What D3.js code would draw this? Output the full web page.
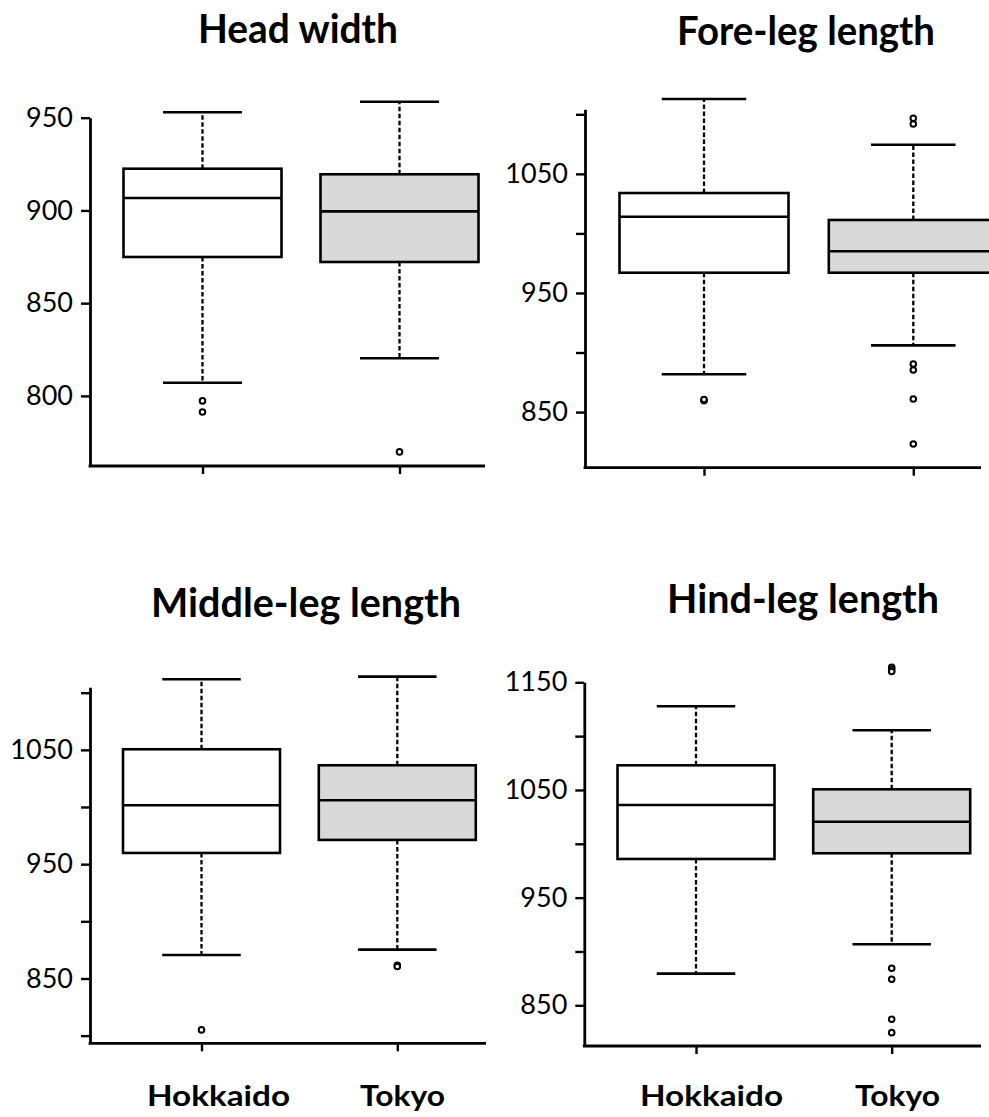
<!DOCTYPE html>
<html>
<head>
<meta charset="utf-8">
<script src="https://cdn.jsdelivr.net/npm/d3@7"></script>
<style>
  html, body { margin: 0; padding: 0; background: #fff; overflow: hidden; }
  svg { display: block; }
  text { font-family: Lato, "Open Sans", "Noto Sans", sans-serif; fill: #000; }
</style>
</head>
<body>
<svg id="chart" width="989" height="1117"></svg>
<script>
// ---------------- DATA ----------------
const categories = ["Hokkaido", "Tokyo"];
const titles = ["Head width", "Fore-leg length", "Middle-leg length", "Hind-leg length"];

// [lower whisker, Q1, median, Q3, upper whisker]
const headHokkaido = [807.1, 874.9, 906.7, 922.5, 952.9];
const headTokyo    = [820.3, 872.2, 899.5, 919.5, 958.6];
const headOutHokkaido = [797.3, 791.3];
const headOutTokyo    = [769.8];

const foreHokkaido = [881.7, 967.0, 1014.0, 1033.9, 1112.8];
const foreTokyo    = [906.0, 967.0, 985.0, 1011.3, 1074.5];
const foreOutHokkaido = [859.5, 860.5];
const foreOutTokyo    = [1096.6, 1091.9, 890.3, 885.3, 861.0, 823.2];

const midHokkaido = [870.6, 959.8, 1001.5, 1050.5, 1111.7];
const midTokyo    = [875.2, 971.2, 1005.9, 1036.5, 1114.0];
const midOutHokkaido = [805.0];
const midOutTokyo    = [861.5, 860.5];

const hindHokkaido = [879.4, 985.9, 1036.0, 1072.9, 1127.7];
const hindTokyo    = [906.7, 991.2, 1020.5, 1050.6, 1105.4];
const hindOutHokkaido = [];
const hindOutTokyo    = [1164, 1162, 1160, 884.4, 874.2, 837.0, 824.6];

const headTicks = [800, 850, 900, 950];
const headMinor = [];
const foreTicks = [850, 950, 1050];
const foreMinor = [900, 1000, 1100];
const midTicks  = [850, 950, 1050];
const midMinor  = [800, 900, 1000, 1100];
const hindTicks = [850, 950, 1050, 1150];
const hindMinor = [900, 1000, 1100];

const panelStats    = [[headHokkaido, headTokyo], [foreHokkaido, foreTokyo], [midHokkaido, midTokyo], [hindHokkaido, hindTokyo]];
const panelOutliers = [[headOutHokkaido, headOutTokyo], [foreOutHokkaido, foreOutTokyo], [midOutHokkaido, midOutTokyo], [hindOutHokkaido, hindOutTokyo]];
const panelTicks    = [headTicks, foreTicks, midTicks, hindTicks];
const panelMinor    = [headMinor, foreMinor, midMinor, hindMinor];

// ---------------- LAYOUT ----------------
const layout = [
  { axisX: 90,  bottom: 466,    top: 117.7, yDomain: [762.2, 950],   centers: [202.5, 399.5], xEnd: 485, boxW: 158,
    title: { x: 298, y: 43, len: 200 } },
  { axisX: 585, bottom: 467.7,  top: 109.3, yDomain: [803.3, 1104.2], centers: [704, 913.3],  xEnd: 981, boxW: 169,
    title: { x: 806, y: 45, len: 258 } },
  { axisX: 90,  bottom: 1043.3, top: 687.3, yDomain: [793.3, 1104.7], centers: [201.5, 397.3], xEnd: 486, boxW: 157,
    title: { x: 306, y: 617, len: 310 } },
  { axisX: 584.3, bottom: 1046, top: 682.3, yDomain: [812.2, 1150],   centers: [696, 891.7],  xEnd: 981, boxW: 157,
    title: { x: 803, y: 613, len: 272 } }
];
const fills = ["#ffffff", "#d9d9d9"];
const xLabels = [
  { x: 218.5, y: 1106, len: 143, text: categories[0] },
  { x: 402.5, y: 1106, len: 85,  text: categories[1] },
  { x: 711.5, y: 1106, len: 143, text: categories[0] },
  { x: 897.5, y: 1106, len: 85,  text: categories[1] }
];

const svg = d3.select("#chart");

layout.forEach((L, pi) => {
  const g = svg.append("g");
  const y = d3.scaleLinear().domain(L.yDomain).range([L.bottom, L.top]);
  const x = d3.scalePoint().domain(categories).range(L.centers);
  const major = panelTicks[pi];
  const allTicks = major.concat(panelMinor[pi]).sort((a, b) => a - b);

  // Y axis
  const yAxis = d3.axisLeft(y).tickValues(allTicks).tickSize(9).tickSizeOuter(0).tickPadding(8)
    .tickFormat(d => major.includes(d) ? d : "");
  const ya = g.append("g").attr("transform", `translate(${L.axisX},0)`).call(yAxis);
  ya.select(".domain").attr("stroke", "#000").attr("stroke-width", 2.8);
  ya.selectAll(".tick line").attr("stroke", "#000").attr("stroke-width", 2.4);
  ya.selectAll(".tick text").style("font-size", "27px").style("font-family", "Lato, 'Open Sans', sans-serif").attr("fill", "#000");

  // X axis line and ticks
  g.append("line").attr("x1", L.axisX - 1.4).attr("x2", L.xEnd).attr("y1", L.bottom).attr("y2", L.bottom)
    .attr("stroke", "#000").attr("stroke-width", 2.8);
  const xAxis = d3.axisBottom(x).tickSize(8).tickFormat("");
  const xa = g.append("g").attr("transform", `translate(0,${L.bottom})`).call(xAxis);
  xa.select(".domain").remove();
  xa.selectAll(".tick line").attr("stroke", "#000").attr("stroke-width", 2.4);

  // Boxes
  categories.forEach((cat, ci) => {
    const s = panelStats[pi][ci];
    const cx = x(cat);
    const bw = L.boxW;
    const capW = bw / 2;
    const bg = g.append("g");
    // whiskers (dashed)
    bg.append("line").attr("x1", cx).attr("x2", cx).attr("y1", y(s[3])).attr("y2", y(s[4]))
      .attr("stroke", "#000").attr("stroke-width", 2.3).attr("stroke-dasharray", "4.5,2.5");
    bg.append("line").attr("x1", cx).attr("x2", cx).attr("y1", y(s[1])).attr("y2", y(s[0]))
      .attr("stroke", "#000").attr("stroke-width", 2.3).attr("stroke-dasharray", "4.5,2.5");
    // caps
    [s[0], s[4]].forEach(v => {
      bg.append("line").attr("x1", cx - capW / 2).attr("x2", cx + capW / 2).attr("y1", y(v)).attr("y2", y(v))
        .attr("stroke", "#000").attr("stroke-width", 2.6);
    });
    // box
    bg.append("rect").attr("x", cx - bw / 2).attr("width", bw)
      .attr("y", y(s[3])).attr("height", y(s[1]) - y(s[3]))
      .attr("fill", fills[ci]).attr("stroke", "#000").attr("stroke-width", 2.6);
    // median
    bg.append("line").attr("x1", cx - bw / 2).attr("x2", cx + bw / 2).attr("y1", y(s[2])).attr("y2", y(s[2]))
      .attr("stroke", "#000").attr("stroke-width", 2.6);
    // outliers
    bg.selectAll("circle.out").data(panelOutliers[pi][ci]).enter().append("circle")
      .attr("class", "out").attr("cx", cx).attr("cy", d => y(d)).attr("r", 2.8)
      .attr("fill", "#fff").attr("stroke", "#000").attr("stroke-width", 2);
  });

  // Title
  svg.append("text").attr("x", L.title.x).attr("y", L.title.y)
    .attr("text-anchor", "middle").style("font-size", "40px").style("font-weight", "bold")
    .attr("textLength", L.title.len).attr("lengthAdjust", "spacingAndGlyphs")
    .text(titles[pi]);
});

xLabels.forEach(l => {
  svg.append("text").attr("x", l.x).attr("y", l.y).attr("text-anchor", "middle")
    .style("font-size", "29px").style("font-weight", "bold")
    .attr("textLength", l.len).attr("lengthAdjust", "spacingAndGlyphs")
    .text(l.text);
});
</script>
</body>
</html>
